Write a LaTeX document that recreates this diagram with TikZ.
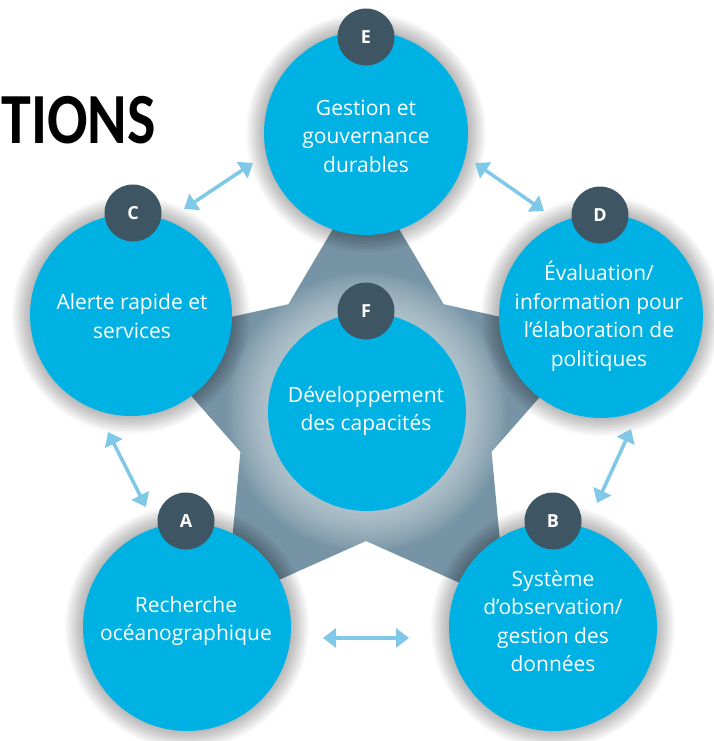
\documentclass[tikz,border=0pt]{standalone}
\usepackage{fontspec}
\setmainfont{Open Sans}
\newfontfamily\titlefont{Carlito}
\usetikzlibrary{arrows.meta}
\definecolor{bubblec}{RGB}{0,178,227}
\definecolor{badgec}{RGB}{62,85,99}
\definecolor{arrowc}{RGB}{128,200,232}
\definecolor{starc}{RGB}{118,148,165}
\definecolor{glowc}{RGB}{222,232,237}
\begin{document}
\begin{tikzpicture}[x=1pt,y=-1pt,
  bubble/.style={circle, fill=bubblec, minimum size=#1, inner sep=0pt},
  badge/.style={circle, fill=badgec, minimum size=57pt, inner sep=0pt, text=white, font=\bfseries\fontsize{18}{18}\selectfont},
  txt/.style={text=white, align=center, inner sep=0pt, font=\fontsize{21}{28.5}\selectfont},
  twoway/.style={draw=arrowc, line width=3.5pt, {Triangle[length=13pt,width=19pt]}-{Triangle[length=13pt,width=19pt]}}]
\useasboundingbox[fill=white] (0,0) rectangle (713,741);
% star
\begin{scope}[shift={(366,411)}]
\clip (90:238pt) -- (126:132pt) -- (162:238pt) -- (198:132pt) -- (234:238pt) -- (270:130pt) -- (306:238pt) -- (342:132pt) -- (18:238pt) -- (54:132pt) -- cycle;
\fill[starc] (0,0) circle (250pt);
\foreach \k in {1,...,20}{
  \pgfmathsetmacro\rr{142-2*\k}
  \fill[glowc, opacity=0.045] (1,1) circle (\rr pt);
}
\end{scope}
% shadows
\foreach \cx/\cy/\r in {366/133/102, 131/315/101, 601/316/102, 187/627/104, 553/627/104}{
  \foreach \k in {1,...,12}{
    \pgfmathsetmacro\rr{\r+1.5*\k}
    \fill[black, opacity=0.022] (\cx,\cy) circle (\rr pt);
  }
}
% bubbles
\node[bubble=204pt] (E) at (366,133) {};
\node[bubble=202pt] (C) at (131,315) {};
\node[bubble=204pt] (D) at (601,316) {};
\node[bubble=208pt] (A) at (187,627) {};
\node[bubble=208pt] (B) at (553,627) {};
\node[bubble=198pt] (F) at (367,412) {};
% badges
\node[badge] (bE) at (366,37) {E};
\node[badge] (bC) at (133,213) {C};
\node[badge] (bD) at (600,215) {D};
\node[badge] (bA) at (186,521) {A};
\node[badge] (bB) at (553,521) {B};
\node[badge] (bF) at (366,311) {F};
% texts
\node[txt] (tE) at (366,136) {Gestion et\\gouvernance\\durables};
\node[txt] (tC) at (132,316) {Alerte rapide et\\services};
\node[txt] (tD) at (599,316) {Évaluation/\\information pour\\l’élaboration de\\politiques};
\node[txt] (tF) at (366,411) {Développement\\des capacités};
\node[txt] (tA) at (186,621) {Recherche\\océanographique};
\node[txt] (tB) at (553,621) {Système\\d’observation/\\gestion des\\données};
% arrows
\coordinate (ce1) at (184,209); \coordinate (ce2) at (253,163);
\coordinate (ed1) at (475,163); \coordinate (ed2) at (544,211);
\coordinate (ca1) at (108,432); \coordinate (ca2) at (146,507);
\coordinate (db1) at (631,429); \coordinate (db2) at (597,503);
\coordinate (ab1) at (323,638); \coordinate (ab2) at (409,638);
\draw[twoway] (ce1) -- (ce2);
\draw[twoway] (ed1) -- (ed2);
\draw[twoway] (ca1) -- (ca2);
\draw[twoway] (db1) -- (db2);
\draw[twoway] (ab1) -- (ab2);
% title
\node[anchor=base east, inner sep=0pt, font=\titlefont\bfseries\fontsize{60}{60}\selectfont] (title) at (156,143) {\scalebox{1}[1.2]{TIONS}};
\end{tikzpicture}
\end{document}
